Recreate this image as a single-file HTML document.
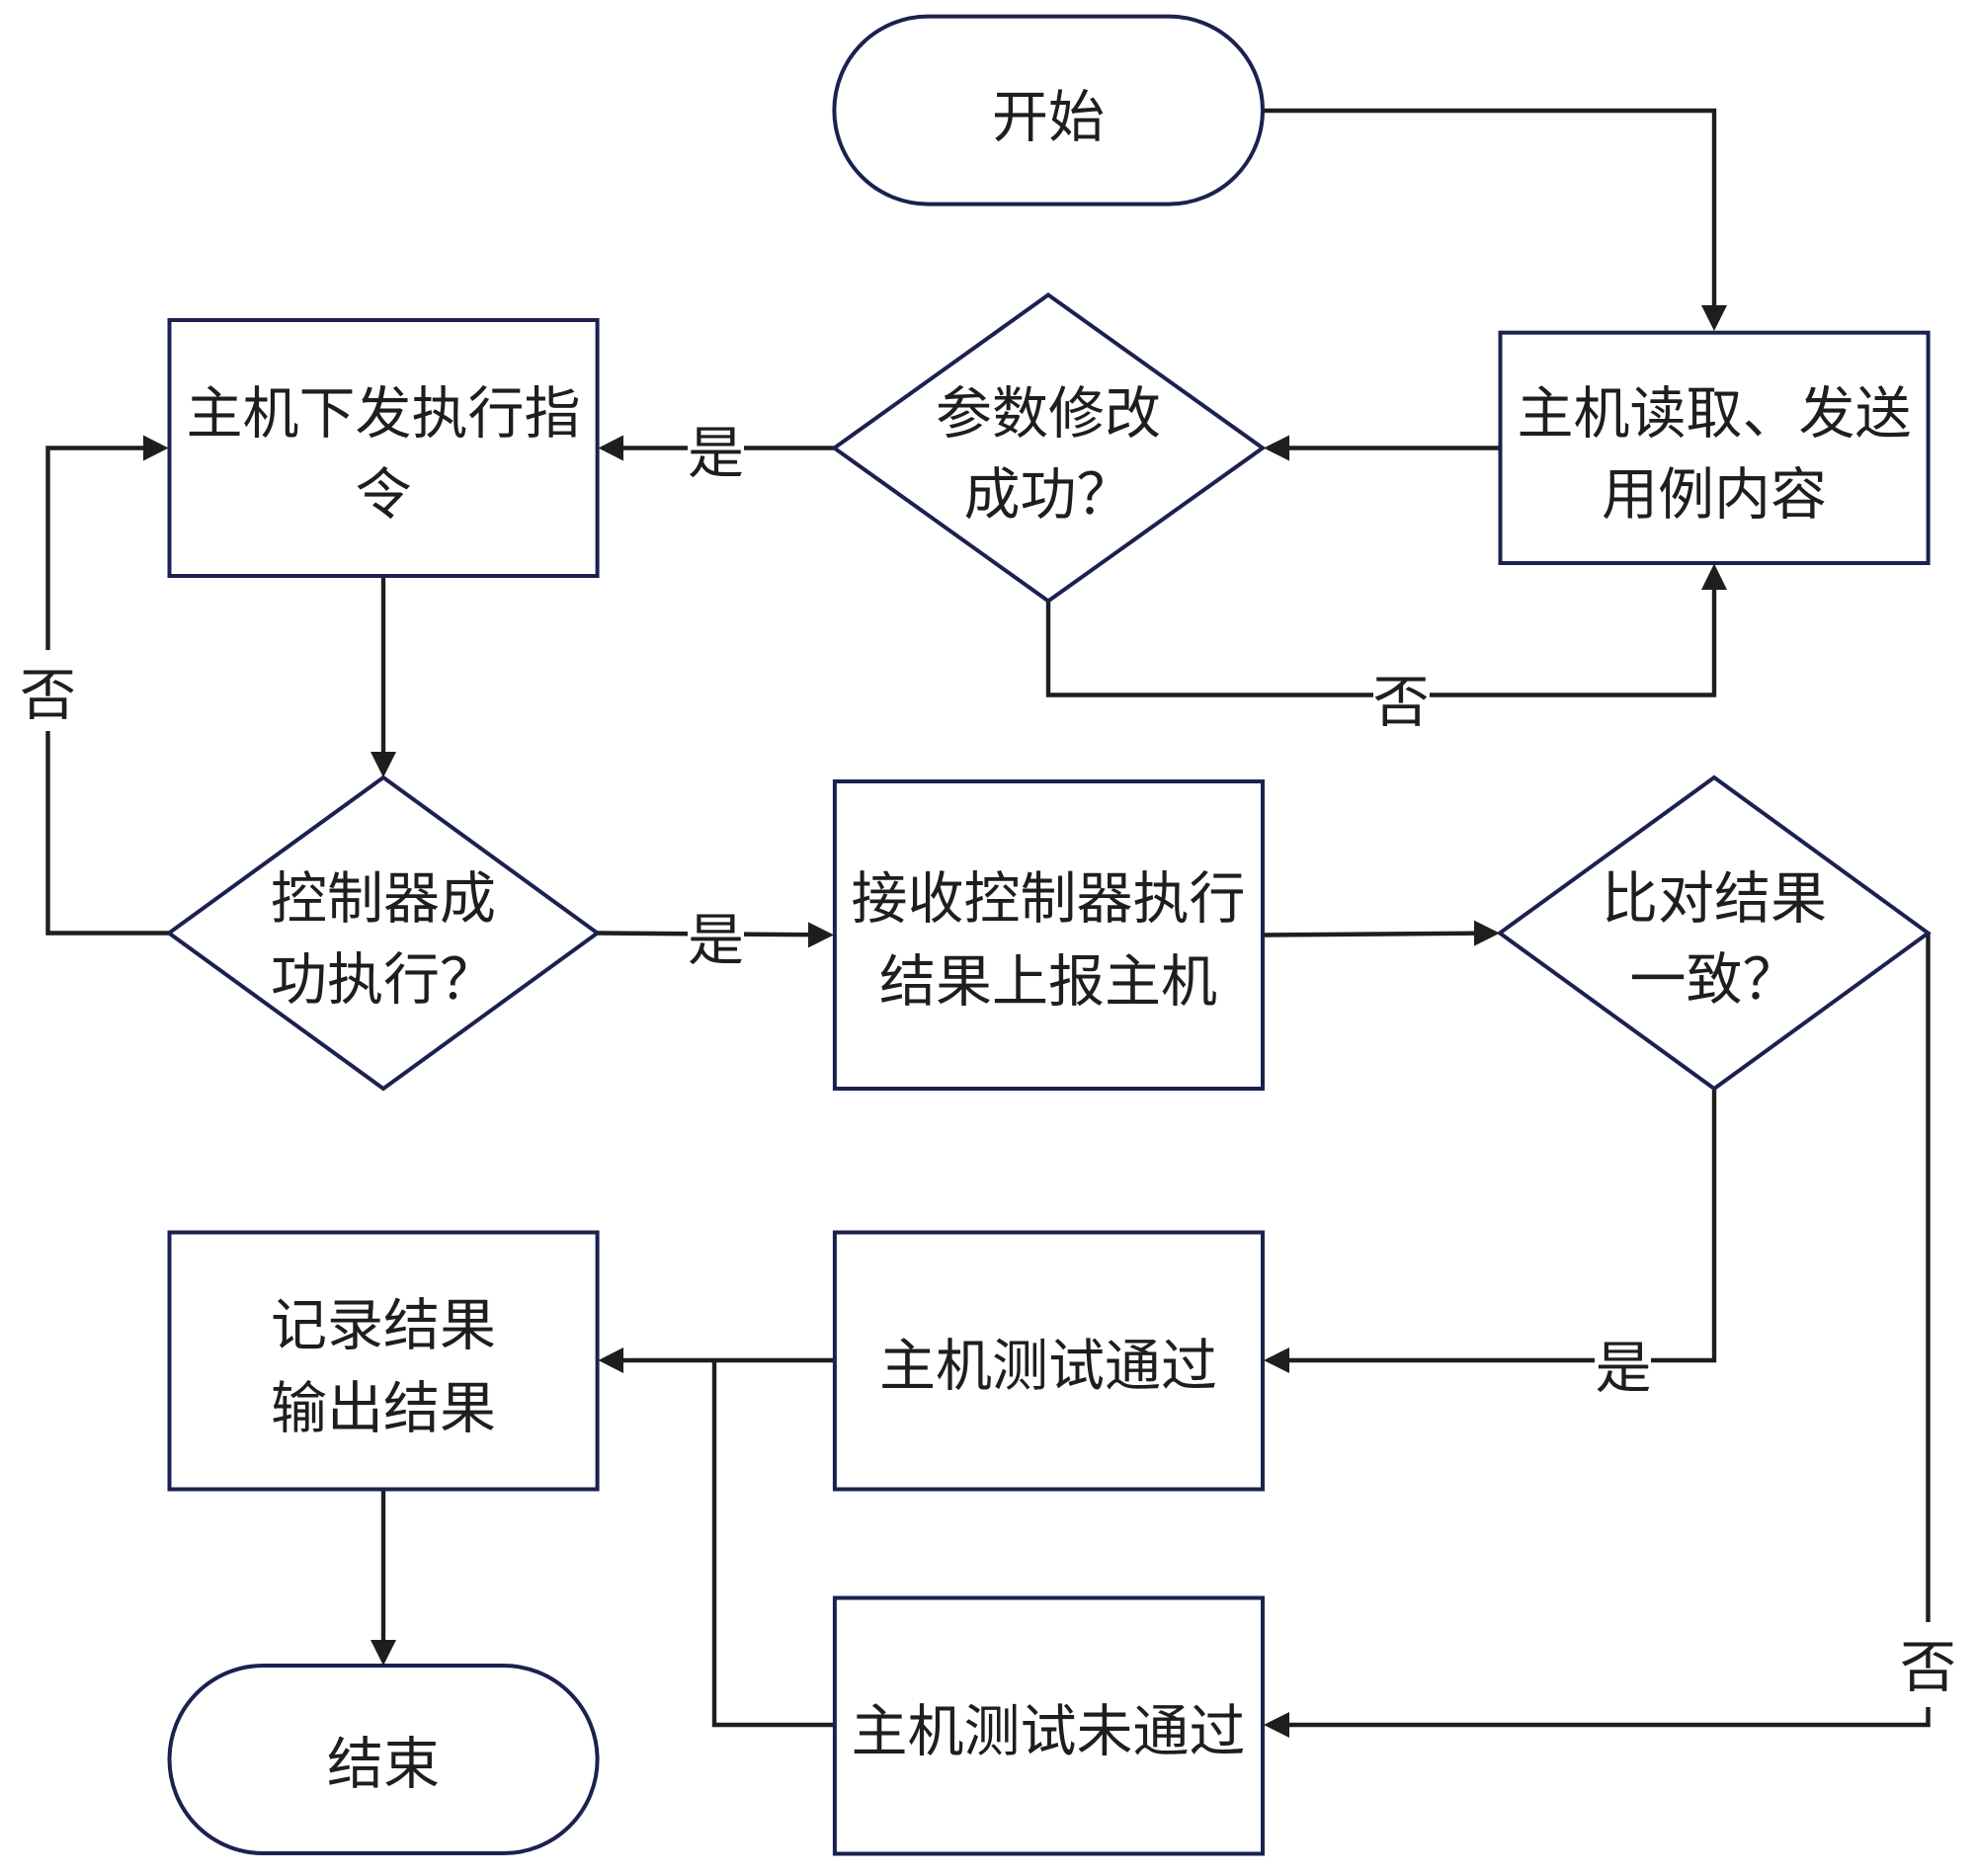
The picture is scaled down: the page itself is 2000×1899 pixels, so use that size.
<!DOCTYPE html>
<html lang="zh">
<head>
<meta charset="utf-8">
<style>
html,body{margin:0;padding:0;background:#fff;width:2000px;height:1899px;overflow:hidden}
svg{display:block}
text{font-family:"Liberation Sans","Noto Sans CJK SC",sans-serif;font-size:57px;fill:#1e1e1e;text-anchor:middle}
.s{fill:#fff;stroke:#1b2150;stroke-width:4;stroke-linejoin:miter}
.c{fill:none;stroke:#1e1e1e;stroke-width:4.4;stroke-linejoin:miter}
.a{fill:#1e1e1e;stroke:none}
</style>
</head>
<body>
<svg width="2000" height="1899" viewBox="0 0 2000 1899" xmlns="http://www.w3.org/2000/svg">
<rect width="2000" height="1899" fill="#fff"/>

<!-- connectors -->
<path class="c" d="M1278 112H1735V312"/>
<path class="c" d="M1518 453.5H1303"/>
<path class="c" d="M844 453.5H630"/>
<path class="c" d="M1061 608V703.5H1735V595"/>
<path class="c" d="M388 583V762"/>
<path class="c" d="M171 944.5H48.5V453.5H146"/>
<path class="c" d="M604.6 944.5L819 946.2"/>
<path class="c" d="M1278 946.5L1493 944.7"/>
<path class="c" d="M1735 1102V1377H1303"/>
<path class="c" d="M1951.5 944.5V1746H1303"/>
<path class="c" d="M844 1377H630"/>
<path class="c" d="M844 1746H723V1377"/>
<path class="c" d="M388 1507.6V1662"/>

<!-- shapes -->
<rect class="s" x="844.4" y="16.6" width="433.6" height="190" rx="95" ry="95"/>
<rect class="s" x="171.5" y="324" width="433.1" height="259"/>
<polygon class="s" points="1061,298.5 1278,453.5 1061,608.4 844.4,453.5"/>
<rect class="s" x="1518.5" y="336.7" width="433.1" height="233.3"/>
<polygon class="s" points="388,787 604.6,944.5 388,1102 171,944.5"/>
<rect class="s" x="844.9" y="791" width="433.1" height="311"/>
<polygon class="s" points="1735,787 1951.5,944.5 1735,1102 1518,944.5"/>
<rect class="s" x="844.9" y="1247.5" width="433.1" height="260"/>
<rect class="s" x="171.5" y="1247.5" width="433.1" height="260"/>
<rect class="s" x="844.9" y="1617.5" width="433.1" height="259"/>
<rect class="s" x="171.5" y="1686" width="433.1" height="190" rx="95" ry="95"/>

<!-- arrowheads -->
<polygon class="a" points="1735,335 1722,309 1748,309"/>
<polygon class="a" points="1279,453.5 1305,440.5 1305,466.5"/>
<polygon class="a" points="605.5,453.5 631,440.5 631,466.5"/>
<polygon class="a" points="1735,570.5 1722,597 1748,597"/>
<polygon class="a" points="388,787 375,761 401,761"/>
<polygon class="a" points="170.5,453.5 145,440.5 145,466.5"/>
<polygon class="a" points="844,946.4 818,933.4 818,959.4"/>
<polygon class="a" points="1518,944.6 1492,931.6 1492,957.6"/>
<polygon class="a" points="1279,1377 1305,1364 1305,1390"/>
<polygon class="a" points="1279,1746 1305,1733 1305,1759"/>
<polygon class="a" points="605.5,1377 631,1364 631,1390"/>
<polygon class="a" points="388,1686 375,1660 401,1660"/>

<!-- node text -->
<text x="1061" y="138">开始</text>
<text x="388" y="438">主机下发执行指</text>
<text x="388" y="520">令</text>
<text x="1061" y="438">参数修改</text>
<text x="1061" y="520">成功？</text>
<text x="1735" y="438">主机读取、发送</text>
<text x="1735" y="520">用例内容</text>
<text x="388" y="929">控制器成</text>
<text x="388" y="1011">功执行？</text>
<text x="1061" y="929">接收控制器执行</text>
<text x="1061" y="1013">结果上报主机</text>
<text x="1735" y="929">比对结果</text>
<text x="1735" y="1011">一致？</text>
<text x="1061" y="1402">主机测试通过</text>
<text x="388" y="1361">记录结果</text>
<text x="388" y="1445">输出结果</text>
<text x="1061" y="1772">主机测试未通过</text>
<text x="388" y="1805">结束</text>

<!-- edge labels -->
<rect x="696" y="415" width="57" height="84" fill="#fff"/>
<text x="724.5" y="478">是</text>
<rect x="1390" y="665" width="57" height="84" fill="#fff"/>
<text x="1418" y="730">否</text>
<rect x="20" y="658" width="57" height="82" fill="#fff"/>
<text x="48.5" y="723">否</text>
<rect x="696" y="905" width="57" height="84" fill="#fff"/>
<text x="724.5" y="971">是</text>
<rect x="1614" y="1340" width="57" height="84" fill="#fff"/>
<text x="1643" y="1404">是</text>
<rect x="1923" y="1642" width="57" height="86" fill="#fff"/>
<text x="1951.5" y="1707">否</text>
</svg>
</body>
</html>
